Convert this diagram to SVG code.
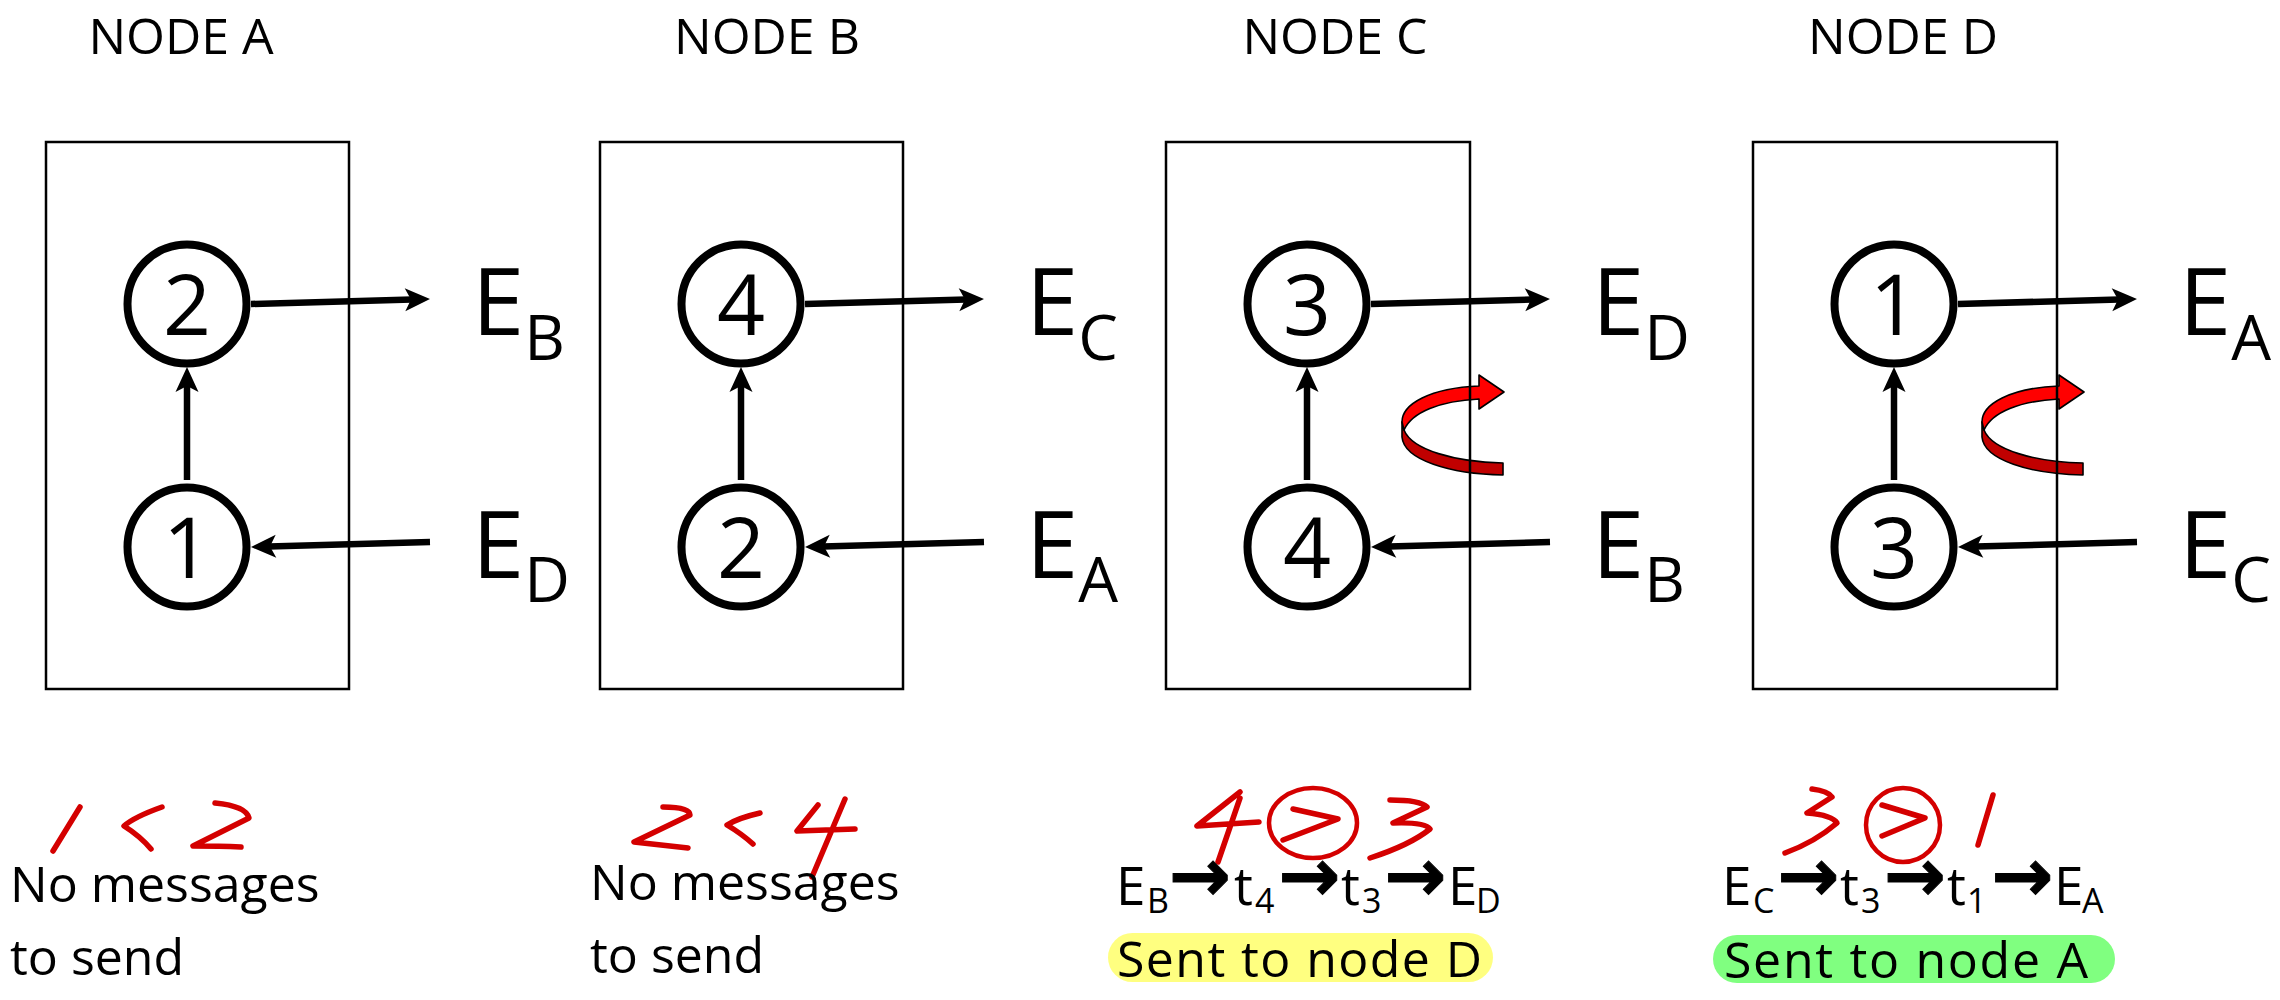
<svg xmlns="http://www.w3.org/2000/svg" width="2280" height="1000" viewBox="0 0 2280 1000">
<style>
text{font-family:"Open Sans","Liberation Sans",sans-serif;fill:#000}
.title{font-size:50px;text-anchor:middle}
.box{fill:none;stroke:#000;stroke-width:2.5}
.st{fill:#fff;stroke:#000;stroke-width:8}
.num{font-size:84px;text-anchor:middle}
.e{font-size:94px}
.sub{font-size:63px}
.conn{stroke:#000;stroke-width:6.5;fill:none;marker-end:url(#ah)}
.hw{fill:none;stroke:#d40000;stroke-width:5.5;stroke-linecap:round;stroke-linejoin:round}
.body{font-size:50px}
.eq{font-size:53px}
.eqs{font-size:34px}
.arr{font-family:"DejaVu Sans",sans-serif;font-weight:bold;font-size:74px;text-anchor:middle;stroke:#000;stroke-width:1}
.sent{font-size:50px}
.front{fill:#ff0000;stroke:#000;stroke-width:1.6;stroke-linejoin:round}
.back{fill:#c00000;stroke:#000;stroke-width:1.6;stroke-linejoin:round}
</style>
<defs>
<marker id="ah" markerUnits="userSpaceOnUse" markerWidth="40" markerHeight="40" viewBox="-10 -20 40 40" refX="0" refY="0" orient="auto">
<path d="M18,0 L-7,-11.5 L-1,0 L-7,11.5 Z" fill="#000"/>
</marker>
<g id="twist">
<path class="back" d="M1402,422 L1402,437 C1404,460 1450,474 1503,475 L1503,463 C1455,462 1412,450 1404,430 Z"/>
<path class="front" d="M1402,422 C1402,404 1430,388 1479,386 L1479,375 L1504,392 L1479,409 L1479,399 C1440,401 1412,412 1404,430 Z"/>
</g>
</defs>
<rect width="2280" height="1000" fill="#fff"/>

<g id="node-A">
<text class="title" x="181" y="54">NODE A</text>
<rect class="box" x="46" y="142" width="303" height="547"/>
<circle class="st" cx="187" cy="304" r="59.5"/>
<text class="num" x="187" y="335">2</text>
<circle class="st" cx="187" cy="547" r="59.5"/>
<text class="num" x="187" y="578">1</text>
<text class="e" x="472" y="335">E<tspan class="sub" dy="25">B</tspan></text>
<text class="e" x="472" y="578">E<tspan class="sub" dy="24">D</tspan></text>
<path class="hw" d="M80,807 L53,851 M162,807 Q134,817 124,826 Q140,836 151,849 M215,803 Q246,806 249,818 L193,846 Q220,846 241,847"/>
<text class="body" x="10" y="902">No messages</text>
<text class="body" x="10" y="975">to send</text>
</g>

<g id="node-B">
<text class="title" x="767" y="54">NODE B</text>
<rect class="box" x="600" y="142" width="303" height="547"/>
<circle class="st" cx="741" cy="304" r="59.5"/>
<text class="num" x="741" y="335">4</text>
<circle class="st" cx="741" cy="547" r="59.5"/>
<text class="num" x="741" y="578">2</text>
<text class="e" x="1026" y="335">E<tspan class="sub" dy="25">C</tspan></text>
<text class="e" x="1026" y="578">E<tspan class="sub" dy="24">A</tspan></text>
<path class="hw" d="M663,807 Q690,807 690,815 L634,842 Q660,845 688,848 M760,813 Q738,818 727,825 Q742,834 753,844 M818,805 L797,831 L855,829 M845,799 L812,877"/>
<text class="body" x="590" y="900">No messages</text>
<text class="body" x="590" y="973">to send</text>
</g>

<g id="node-C">
<text class="title" x="1335" y="54">NODE C</text>
<use href="#twist"/>
<rect class="box" x="1166" y="142" width="304" height="547"/>
<circle class="st" cx="1307" cy="304" r="59.5"/>
<text class="num" x="1307" y="335">3</text>
<circle class="st" cx="1307" cy="547" r="59.5"/>
<text class="num" x="1307" y="578">4</text>
<text class="e" x="1592" y="335">E<tspan class="sub" dy="25">D</tspan></text>
<text class="e" x="1592" y="578">E<tspan class="sub" dy="24">B</tspan></text>
<path class="hw" d="M1240,792 L1197,826 L1259,822 M1240,798 L1218,862 M1293,809 L1338,819 L1283,840 M1390,800 Q1420,800 1427,807 L1393,823 Q1425,822 1430,829 Q1410,845 1370,858"/>
<ellipse cx="1313" cy="823" rx="44" ry="35" fill="none" stroke="#d40000" stroke-width="4.5"/>
<text class="eq" y="905"><tspan x="1116">E</tspan><tspan class="eqs" x="1147" y="913">B</tspan><tspan x="1234" y="905">t</tspan><tspan class="eqs" x="1255" y="913">4</tspan><tspan x="1341" y="905">t</tspan><tspan class="eqs" x="1362" y="913">3</tspan><tspan x="1448" y="905">E</tspan><tspan class="eqs" x="1476" y="913">D</tspan></text>
<text class="arr" x="1200" y="901">→</text>
<text class="arr" x="1309.5" y="901">→</text>
<text class="arr" x="1415.5" y="901">→</text>
<rect x="1108" y="933" width="385" height="49" rx="24.5" fill="#ffff80"/>
<text class="sent" x="1117" y="977" textLength="365" lengthAdjust="spacing">Sent to node D</text>
</g>

<g id="node-D">
<text class="title" x="1903" y="54">NODE D</text>
<use href="#twist" transform="translate(580,0)"/>
<rect class="box" x="1753" y="142" width="304" height="547"/>
<circle class="st" cx="1894" cy="304" r="59.5"/>
<text class="num" x="1894" y="335">1</text>
<circle class="st" cx="1894" cy="547" r="59.5"/>
<text class="num" x="1894" y="578">3</text>
<text class="e" x="2179" y="335">E<tspan class="sub" dy="25">A</tspan></text>
<text class="e" x="2179" y="578">E<tspan class="sub" dy="24">C</tspan></text>
<path class="hw" d="M1812,789 Q1828,791 1832,797 L1807,813 Q1832,815 1837,823 Q1815,842 1785,853 M1882,805 L1925,818 L1882,836 M1993,795 L1978,845"/>
<circle cx="1903" cy="825" r="37" fill="none" stroke="#d40000" stroke-width="4.5"/>
<text class="eq" y="905"><tspan x="1722">E</tspan><tspan class="eqs" x="1753" y="913">C</tspan><tspan x="1840" y="905">t</tspan><tspan class="eqs" x="1861" y="913">3</tspan><tspan x="1947" y="905">t</tspan><tspan class="eqs" x="1967" y="913">1</tspan><tspan x="2054" y="905">E</tspan><tspan class="eqs" x="2082" y="913">A</tspan></text>
<text class="arr" x="1808.5" y="901">→</text>
<text class="arr" x="1915" y="901">→</text>
<text class="arr" x="2022.5" y="901">→</text>
<rect x="1713" y="935" width="402" height="48" rx="24" fill="#80ff80"/>
<text class="sent" x="1724" y="978" textLength="364" lengthAdjust="spacing">Sent to node A</text>
</g>

<g id="connectors">
<path class="conn" d="M187,480 L187,385"/>
<path class="conn" d="M251,304 L412,299.5"/>
<path class="conn" d="M430,542 L269,546.5"/>
<path class="conn" d="M741,480 L741,385"/>
<path class="conn" d="M805,304 L966,299.5"/>
<path class="conn" d="M984,542 L823,546.5"/>
<path class="conn" d="M1307,480 L1307,385"/>
<path class="conn" d="M1371,304 L1532,299.5"/>
<path class="conn" d="M1550,542 L1389,546.5"/>
<path class="conn" d="M1894,480 L1894,385"/>
<path class="conn" d="M1958,304 L2119,299.5"/>
<path class="conn" d="M2137,542 L1976,546.5"/>
</g>
</svg>
